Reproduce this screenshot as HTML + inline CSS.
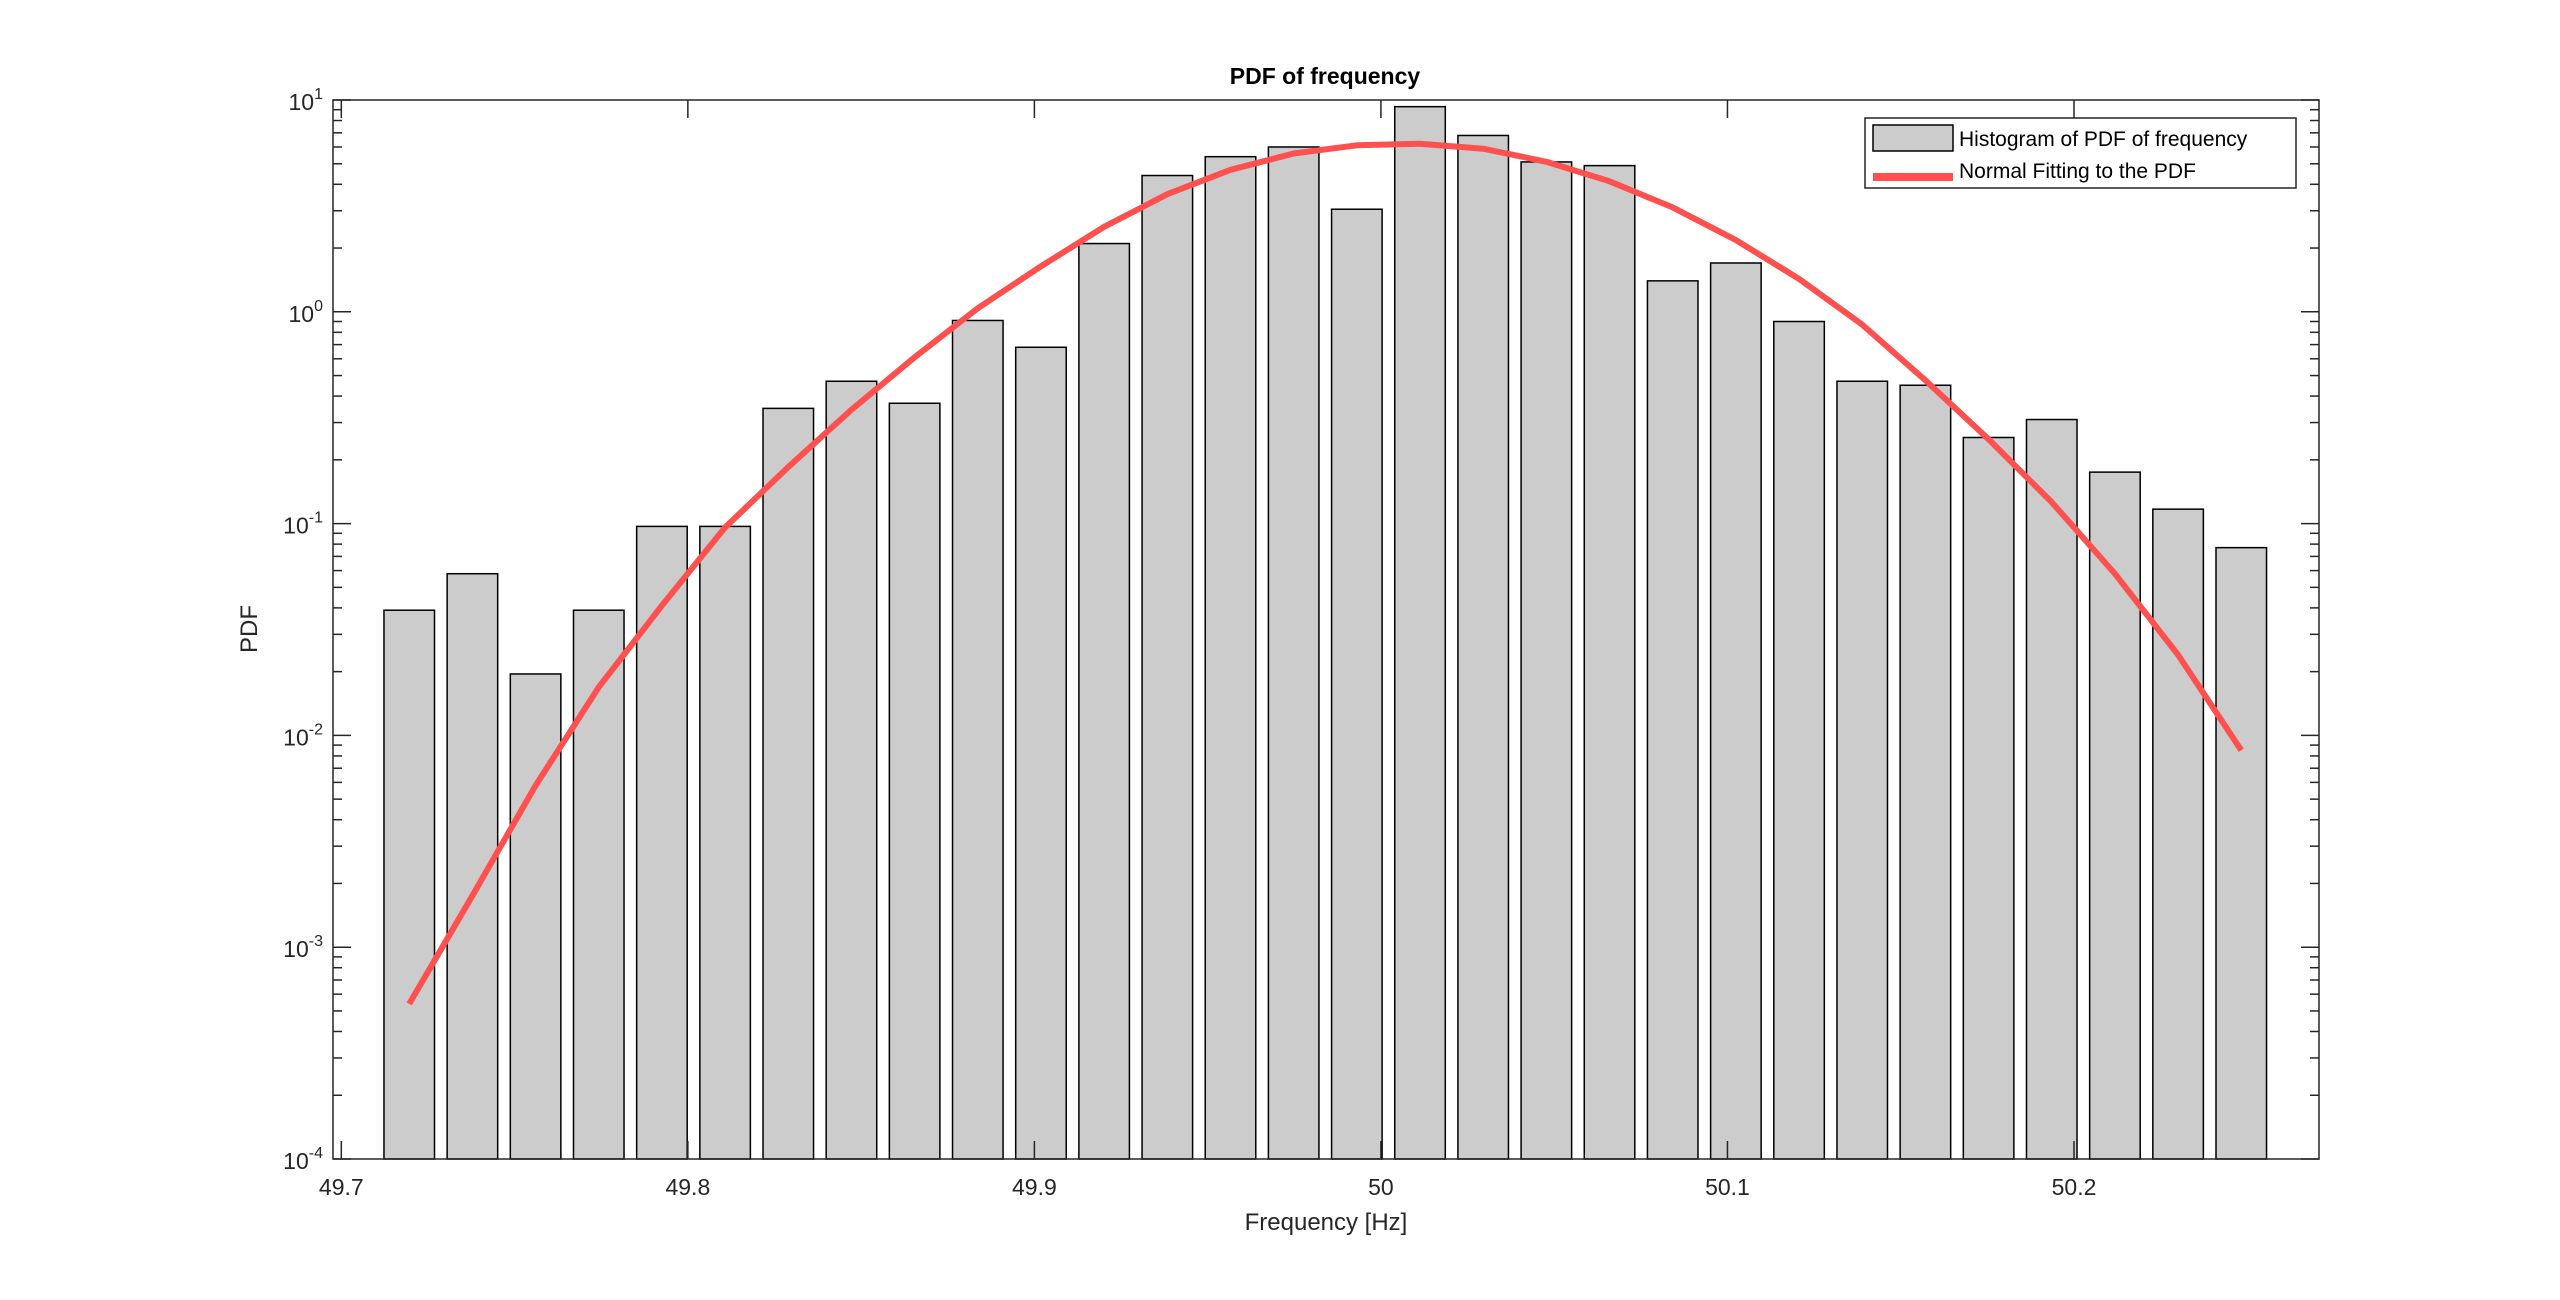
<!DOCTYPE html>
<html><head><meta charset="utf-8"><style>
html,body{margin:0;padding:0;background:#fff;}
svg{display:block;font-family:"Liberation Sans",Arial,sans-serif;}
</style></head><body>
<svg id="chart" width="2560" height="1300" viewBox="0 0 2560 1300" xmlns="http://www.w3.org/2000/svg">
<rect x="0" y="0" width="2560" height="1300" fill="#fff"/>
<rect x="333" y="100" width="1986" height="1059" fill="#fff"/>
<g id="bars"></g>
<g id="curve"></g>
<g id="axes"></g>
<text x="1325" y="84" text-anchor="middle" font-size="23" font-weight="bold" fill="#000">PDF of frequency</text>
<text x="1326" y="1230" text-anchor="middle" font-size="24" fill="#262626">Frequency [Hz]</text>
<text x="0" y="0" transform="translate(257,629) rotate(-90)" text-anchor="middle" font-size="24" fill="#262626">PDF</text>
<g>
<rect x="1865" y="118" width="431" height="70" fill="#fff" stroke="#262626" stroke-width="1.5"/>
<rect x="1873" y="125" width="80" height="26" fill="#cccccc" stroke="#000" stroke-width="1.5"/>
<text x="1959" y="146" font-size="21" fill="#000">Histogram of PDF of frequency</text>
<line x1="1873" y1="177" x2="1953" y2="177" stroke="#ff5050" stroke-width="8"/>
<text x="1959" y="178" font-size="21" fill="#000">Normal Fitting to the PDF</text>
</g>
</svg>
<script>
const binStart = 49.7196;
const binWidth = 0.01823;
const barValues = [0.039,0.058,0.0195,0.039,0.097,0.097,0.35,0.47,0.37,0.91,0.68,2.1,4.4,5.4,6.0,3.05,9.3,6.8,5.1,4.9,1.4,1.7,0.90,0.47,0.45,0.255,0.31,0.175,0.117,0.077];
const fitValues = [5.4e-4,1.75e-3,5.8e-3,0.0169,0.041,0.096,0.185,0.345,0.61,1.04,1.64,2.52,3.59,4.68,5.59,6.11,6.22,5.89,5.11,4.13,3.11,2.18,1.43,0.87,0.475,0.25,0.126,0.058,0.024,0.0085];
const xTicks = [49.7,49.8,49.9,50,50.1,50.2];
const xTickLabels = ["49.7","49.8","49.9","50","50.1","50.2"];
const yExponents = [-4,-3,-2,-1,0,1];

const NS="http://www.w3.org/2000/svg";
const L=333,R=2319,T=100,B=1159;
const xMin=49.6976,xMax=50.2707,yMinE=-4,yMaxE=1;
function xs(v){return L+(v-xMin)/(xMax-xMin)*(R-L);}
function ys(v){return B-(Math.log10(v)-yMinE)/(yMaxE-yMinE)*(B-T);}
function mk(tag,attrs,parent){const e=document.createElementNS(NS,tag);for(const k in attrs)e.setAttribute(k,attrs[k]);parent.appendChild(e);return e;}

const gb=document.getElementById('bars');
barValues.forEach((v,i)=>{
  const c=binStart+i*binWidth, w=binWidth*0.8;
  const x0=xs(c-w/2), x1=xs(c+w/2), y=ys(v);
  const r=mk('rect',{x:x0,y:y,width:x1-x0,height:B-y,fill:'#cccccc',stroke:'#000','stroke-width':1.5},gb);
  
  
});

const gc=document.getElementById('curve');
const pts=fitValues.map((v,i)=>xs(binStart+i*binWidth).toFixed(1)+','+ys(v).toFixed(1)).join(' ');
const pl=mk('polyline',{points:pts,fill:'none',stroke:'#ff5050','stroke-width':6,'stroke-linejoin':'round'},gc);



const ga=document.getElementById('axes');
const box=mk('rect',{x:L,y:T,width:R-L,height:B-T,fill:'none',stroke:'#262626','stroke-width':1.5},ga);


xTicks.forEach((t,i)=>{
  const x=xs(t);
  mk('line',{x1:x,y1:B,x2:x,y2:B-18,stroke:'#262626','stroke-width':1.5},ga);
  mk('line',{x1:x,y1:T,x2:x,y2:T+18,stroke:'#262626','stroke-width':1.5},ga);
  const tx=mk('text',{x:x,y:B+36,'text-anchor':'middle','font-size':23,fill:'#262626'},ga);
  tx.textContent=xTickLabels[i];
  
  
});
yExponents.forEach(e=>{
  const y=ys(Math.pow(10,e));
  mk('line',{x1:L,y1:y,x2:L+18,y2:y,stroke:'#262626','stroke-width':1.5},ga);
  mk('line',{x1:R,y1:y,x2:R-18,y2:y,stroke:'#262626','stroke-width':1.5},ga);
  if(e<yMaxE){for(let m=2;m<=9;m++){const ym=ys(m*Math.pow(10,e));
    mk('line',{x1:L,y1:ym,x2:L+9,y2:ym,stroke:'#262626','stroke-width':1.5},ga);
    mk('line',{x1:R,y1:ym,x2:R-9,y2:ym,stroke:'#262626','stroke-width':1.5},ga);}}
  const tx=mk('text',{x:L-10,y:y+10,'text-anchor':'end','font-size':23,fill:'#262626'},ga);
  
  
  const b=document.createElementNS(NS,'tspan');b.textContent='10';tx.appendChild(b);
  const s=document.createElementNS(NS,'tspan');s.setAttribute('dy','-11');s.setAttribute('font-size','16');s.textContent=String(e);tx.appendChild(s);
});
</script>
</body></html>
